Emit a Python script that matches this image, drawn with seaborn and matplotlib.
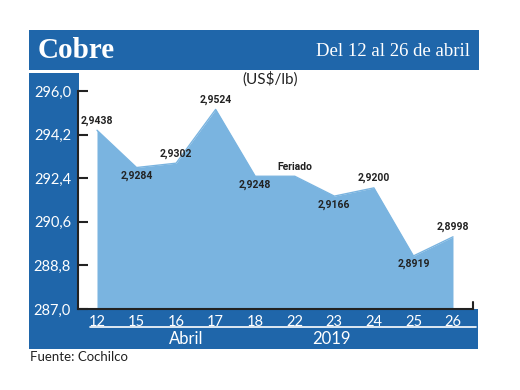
import matplotlib
matplotlib.use('Agg')
import matplotlib.pyplot as plt
import seaborn as sns
import pandas as pd
from matplotlib.patches import Rectangle
from matplotlib.lines import Line2D

days = ['12', '15', '16', '17', '18', '22', '23', '24', '25', '26']
prices = [294.38, 292.84, 293.02, 295.24, 292.48, 292.48, 291.66, 292.00, 289.19, 289.98]
labels = ['2,9438', '2,9284', '2,9302', '2,9524', '2,9248', 'Feriado',
          '2,9166', '2,9200', '2,8919', '2,8998']
label_side = ['above', 'below', 'above', 'above', 'below', 'above',
              'below', 'above', 'below', 'above']
yticks = [287.0, 288.8, 290.6, 292.4, 294.2, 296.0]
ytick_labels = ['287,0', '288,8', '290,6', '292,4', '294,2', '296,0']

sns.set_style('white')
plt.rcParams['font.family'] = ['Lato', 'DejaVu Sans']

W, H = 520, 390
fig = plt.figure(figsize=(5.2, 3.9), dpi=100)


def fx(px):
    return px / W


def fy(py):
    return 1 - py / H


BLUE = '#1f66aa'
AREA = '#7ab4e0'
DARK = '#222222'


def band(x0, y0, x1, y1):
    r = Rectangle((fx(x0), fy(y1)), fx(x1) - fx(x0), fy(y0) - fy(y1),
                  transform=fig.transFigure, facecolor=BLUE, edgecolor='none', zorder=0)
    fig.add_artist(r)


band(29, 30, 479, 70)    # title bar
band(29, 73, 79, 349)    # left band
band(29, 309, 478, 349)  # bottom band

ax = fig.add_axes([fx(78), fy(309), fx(473) - fx(78), (309 - 91) / H])
ax.patch.set_alpha(0)

df = pd.DataFrame({'day': days, 'price': prices, 'pos': range(len(days))})
ax.fill_between(df['pos'], df['price'], 287, color=AREA, lw=0, zorder=1)
sns.lineplot(data=df, x='pos', y='price', color=AREA, lw=1, ax=ax, zorder=2)

ax.set_xlim(-0.48, 9.506)
ax.set_ylim(287, 296)
ax.set_xlabel('')
ax.set_ylabel('')
ax.set_xticks(df['pos'])
ax.set_xticklabels(days)
ax.set_yticks(yticks)
ax.set_yticklabels(ytick_labels)
ax.tick_params(axis='x', length=0, pad=4, labelcolor='white', labelsize=10.5)
ax.tick_params(axis='y', direction='in', length=7, width=1.5, color=DARK,
               labelcolor='white', labelsize=10.5, pad=5, left=True)
for s in ['top', 'right']:
    ax.spines[s].set_visible(False)
for s in ['left', 'bottom']:
    ax.spines[s].set_color(DARK)
    ax.spines[s].set_linewidth(1.5)
ax.plot([1, 1], [0, 0.03], transform=ax.transAxes, color=DARK, lw=1.5, clip_on=False)
ax.grid(False)

for i, (lab, side) in enumerate(zip(labels, label_side)):
    off = 7 if side == 'above' else -6
    ax.annotate(lab, (df['pos'][i], df['price'][i]), xytext=(0, off),
                textcoords='offset points', ha='center', va='center',
                fontsize=7.5, fontweight='bold',
                family=['Roboto', 'DejaVu Sans'], color=DARK, zorder=5)

fig.text(fx(38), fy(50), 'Cobre', color='white', fontsize=21, fontweight='bold',
         family=['Liberation Serif', 'DejaVu Serif'], ha='left', va='center')
fig.text(fx(470), fy(52), 'Del 12 al 26 de abril', color='white', fontsize=13.5,
         family=['Liberation Serif', 'DejaVu Serif'], ha='right', va='center')
fig.text(fx(270), fy(79), '(US$/lb)', color=DARK, fontsize=11, ha='center', va='center')

fig.add_artist(Line2D([fx(90), fx(476)], [fy(327), fy(327)], color='white', lw=1.2,
                      transform=fig.transFigure))
fig.text(fx(186), fy(339), 'Abril', color='white', fontsize=12, ha='center', va='center')
fig.text(fx(331), fy(339), '2019', color='white', fontsize=12, ha='center', va='center')
fig.text(fx(30), fy(357), 'Fuente: Cochilco', color=DARK, fontsize=9.5, ha='left', va='center')

fig.savefig('out.png', dpi=100)
